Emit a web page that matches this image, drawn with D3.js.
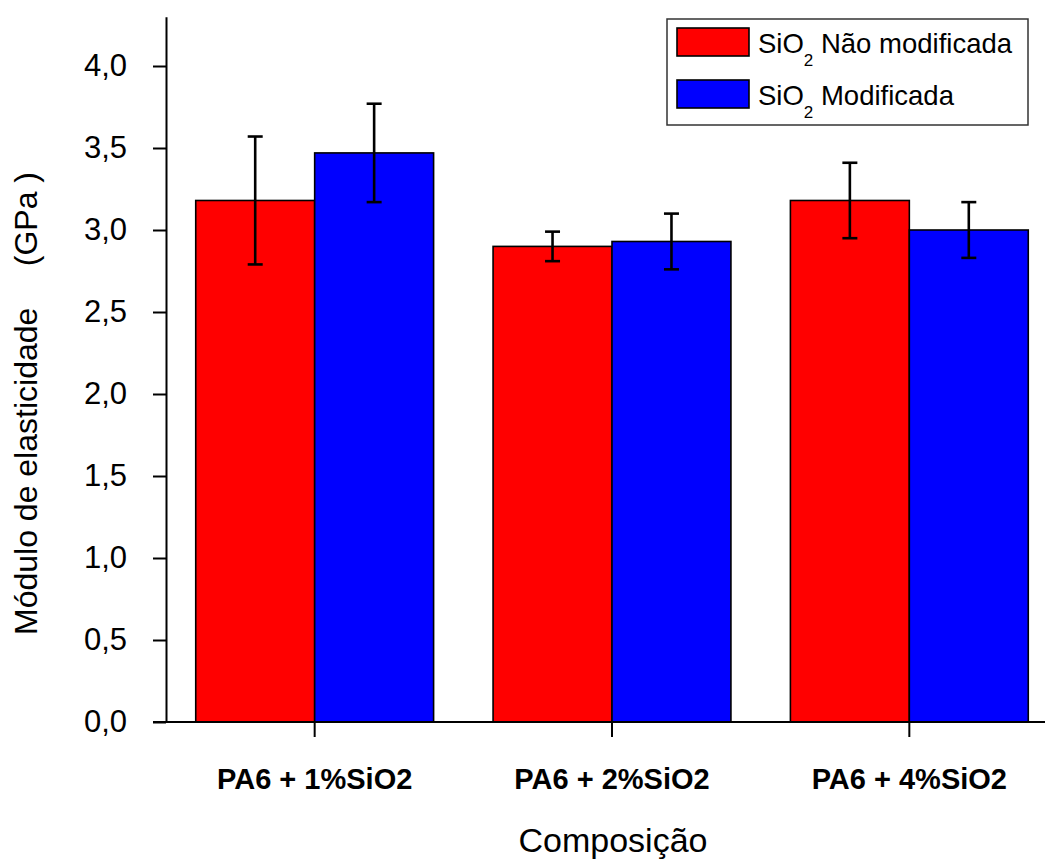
<!DOCTYPE html>
<html>
<head>
<meta charset="utf-8">
<script src="https://cdn.jsdelivr.net/npm/d3@7"></script>
<style>
  html, body { margin: 0; padding: 0; background: #fff; }
  svg { display: block; font-family: "Liberation Sans", Arial, sans-serif; }
</style>
</head>
<body>
<svg id="chart" width="1045" height="859"></svg>
<script>
// Elastic modulus (GPa) of PA6 / SiO2 composites
const categories = ["PA6 + 1%SiO2", "PA6 + 2%SiO2", "PA6 + 4%SiO2"];
const naoModificada = [3.18, 2.90, 3.18];
const naoModificadaErr = [0.39, 0.09, 0.23];
const modificada = [3.47, 2.93, 3.00];
const modificadaErr = [0.30, 0.17, 0.17];
const seriesKeys = ["nao", "mod"];
const seriesNames = ["Não modificada", "Modificada"];
const seriesColors = ["#ff0000", "#0000ff"];
const yTicks = [0, 0.5, 1.0, 1.5, 2.0, 2.5, 3.0, 3.5, 4.0];
const yMax = 4.3;

const svg = d3.select("#chart");

const plotLeft = 166, plotBottom = 722;
const y = d3.scaleLinear().domain([0, yMax]).range([plotBottom, plotBottom - 164 * yMax]);
const x0 = d3.scaleBand().domain(categories).range([plotLeft, 1058])
  .paddingInner(0.2).paddingOuter(0.1);
const x1 = d3.scaleBand().domain(seriesKeys).range([0, x0.bandwidth()]);

const rows = categories.map((c, i) => ({
  cat: c,
  vals: [
    { key: "nao", v: naoModificada[i], e: naoModificadaErr[i], color: seriesColors[0] },
    { key: "mod", v: modificada[i], e: modificadaErr[i], color: seriesColors[1] }
  ]
}));

// bars
const groups = svg.append("g").selectAll("g").data(rows).join("g")
  .attr("transform", d => `translate(${x0(d.cat)},0)`);

groups.selectAll("rect").data(d => d.vals).join("rect")
  .attr("x", d => x1(d.key))
  .attr("y", d => y(d.v))
  .attr("width", x1.bandwidth())
  .attr("height", d => y(0) - y(d.v))
  .attr("fill", d => d.color)
  .attr("stroke", "#000")
  .attr("stroke-width", 1.6);

// error bars
const capHalf = 7.5;
const eb = groups.selectAll("g.err").data(d => d.vals).join("g").attr("class", "err")
  .attr("stroke", "#000").attr("stroke-width", 2.6);
eb.append("line")
  .attr("x1", d => x1(d.key) + x1.bandwidth() / 2)
  .attr("x2", d => x1(d.key) + x1.bandwidth() / 2)
  .attr("y1", d => y(d.v + d.e))
  .attr("y2", d => y(d.v - d.e));
eb.append("line")
  .attr("x1", d => x1(d.key) + x1.bandwidth() / 2 - capHalf)
  .attr("x2", d => x1(d.key) + x1.bandwidth() / 2 + capHalf)
  .attr("y1", d => y(d.v + d.e)).attr("y2", d => y(d.v + d.e));
eb.append("line")
  .attr("x1", d => x1(d.key) + x1.bandwidth() / 2 - capHalf)
  .attr("x2", d => x1(d.key) + x1.bandwidth() / 2 + capHalf)
  .attr("y1", d => y(d.v - d.e)).attr("y2", d => y(d.v - d.e));

// y axis
const fmt = d3.format(".1f");
const yAxis = svg.append("g").attr("transform", `translate(${plotLeft},0)`)
  .call(d3.axisLeft(y).tickValues(yTicks).tickSize(13).tickSizeOuter(0).tickPadding(26)
    .tickFormat(d => fmt(d).replace(".", ",")));
yAxis.selectAll("path, line").attr("stroke", "#000").attr("stroke-width", 2);
yAxis.selectAll("text").attr("font-size", 31).attr("fill", "#000");
yAxis.attr("font-family", null);

// x axis
const xAxis = svg.append("g").attr("transform", `translate(0,${plotBottom})`)
  .call(d3.axisBottom(x0).tickSize(15).tickSizeOuter(0).tickPadding(52));
xAxis.select(".domain").remove();
xAxis.selectAll("line").attr("stroke", "#000").attr("stroke-width", 2);
xAxis.selectAll("text").attr("font-size", 29).attr("font-weight", "bold")
  .attr("dy", null).attr("fill", "#000");
xAxis.attr("font-family", null);
svg.append("line")
  .attr("x1", plotLeft - 13).attr("x2", 1045)
  .attr("y1", y(0)).attr("y2", y(0))
  .attr("stroke", "#000").attr("stroke-width", 2);

// axis titles
svg.append("text")
  .attr("x", 613).attr("y", 852)
  .attr("text-anchor", "middle").attr("font-size", 34)
  .text("Composição");

const yt = svg.append("g").attr("transform", "translate(37,635) rotate(-90)");
yt.append("text").attr("x", 0).attr("y", 0).attr("font-size", 32)
  .text("Módulo de elasticidade");
yt.append("text").attr("x", 463).attr("y", 0).attr("text-anchor", "end").attr("font-size", 32)
  .text("(GPa )");

// legend
const legend = svg.append("g");
legend.append("rect")
  .attr("x", 667).attr("y", 19).attr("width", 361).attr("height", 106)
  .attr("fill", "#fff").attr("stroke", "#333").attr("stroke-width", 1.5);
const li = legend.selectAll("g.item").data(seriesNames).join("g").attr("class", "item")
  .attr("transform", (d, i) => `translate(0,${i * 52})`);
li.append("rect")
  .attr("x", 677).attr("y", 28).attr("width", 72).attr("height", 28)
  .attr("fill", (d, i) => seriesColors[i]).attr("stroke", "#000").attr("stroke-width", 1.6);
const lt = li.append("text").attr("x", 758).attr("y", 53).attr("font-size", 27.5);
lt.append("tspan").text("SiO");
lt.append("tspan").attr("font-size", 17).attr("dy", 13).text("2");
lt.append("tspan").attr("dy", -13).text(d => "\u00a0" + d);
</script>
</body>
</html>
